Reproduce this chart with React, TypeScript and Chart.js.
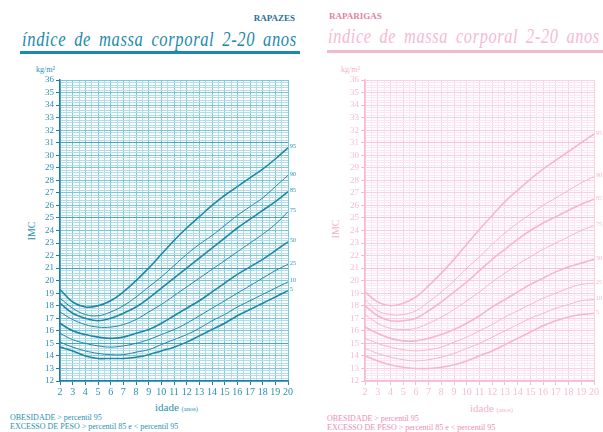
import React, { useEffect, useLayoutEffect, useRef, useState } from 'react';
import { Chart, registerables } from 'chart.js';
Chart.register(...registerables);

const ages = [2, 3, 4, 5, 6, 7, 8, 9, 10, 11, 12, 13, 14, 15, 16, 17, 18, 19, 20];
const percentileLabels = ['95', '90', '85', '75', '50', '25', '10', '5'];
const heavy = [true, false, true, false, true, false, false, true];

const boysP95 = [19.3, 18.3, 17.9, 18.0, 18.4, 19.1, 20.0, 21.0, 22.1, 23.2, 24.2, 25.1, 26.0, 26.8, 27.5, 28.2, 28.9, 29.7, 30.6];
const boysP90 = [18.6, 17.8, 17.3, 17.2, 17.5, 18.0, 18.7, 19.5, 20.3, 21.2, 22.1, 22.9, 23.6, 24.4, 25.2, 25.9, 26.6, 27.5, 28.4];
const boysP85 = [18.2, 17.4, 17.0, 16.8, 17.0, 17.4, 17.9, 18.6, 19.4, 20.2, 21.0, 21.8, 22.6, 23.4, 24.2, 24.9, 25.6, 26.3, 27.1];
const boysP75 = [17.5, 16.9, 16.5, 16.3, 16.3, 16.5, 16.9, 17.5, 18.1, 18.8, 19.5, 20.2, 20.9, 21.6, 22.3, 23.0, 23.7, 24.5, 25.5];
const boysP50 = [16.6, 16.0, 15.7, 15.5, 15.4, 15.5, 15.8, 16.1, 16.6, 17.2, 17.8, 18.4, 19.1, 19.8, 20.5, 21.1, 21.7, 22.4, 23.1];
const boysP25 = [15.8, 15.3, 15.0, 14.8, 14.7, 14.8, 15.0, 15.3, 15.7, 16.1, 16.6, 17.2, 17.8, 18.4, 19.0, 19.6, 20.2, 20.8, 21.3];
const boysP10 = [15.1, 14.7, 14.4, 14.2, 14.1, 14.1, 14.3, 14.5, 14.9, 15.3, 15.7, 16.2, 16.8, 17.3, 17.9, 18.4, 18.9, 19.4, 19.9];
const boysP5 = [14.7, 14.4, 14.0, 13.8, 13.8, 13.8, 13.9, 14.1, 14.4, 14.7, 15.1, 15.6, 16.1, 16.6, 17.2, 17.7, 18.2, 18.7, 19.2];

const girlsP95 = [19.1, 18.3, 18.0, 18.2, 18.7, 19.6, 20.6, 21.7, 22.9, 24.1, 25.2, 26.3, 27.2, 28.1, 28.9, 29.6, 30.3, 31.0, 31.7];
const girlsP90 = [18.5, 17.6, 17.3, 17.3, 17.6, 18.3, 19.1, 20.0, 21.0, 21.9, 22.9, 23.8, 24.6, 25.3, 26.0, 26.6, 27.2, 27.8, 28.3];
const girlsP85 = [18.0, 17.2, 16.8, 16.8, 17.0, 17.6, 18.3, 19.1, 19.9, 20.8, 21.7, 22.5, 23.3, 24.0, 24.6, 25.1, 25.6, 26.1, 26.5];
const girlsP75 = [17.3, 16.6, 16.2, 16.1, 16.2, 16.6, 17.1, 17.7, 18.4, 19.1, 19.9, 20.6, 21.3, 21.9, 22.5, 23.0, 23.5, 24.0, 24.4];
const girlsP50 = [16.3, 15.8, 15.4, 15.2, 15.2, 15.4, 15.7, 16.1, 16.6, 17.2, 17.9, 18.5, 19.1, 19.7, 20.2, 20.7, 21.1, 21.4, 21.7];
const girlsP25 = [15.4, 15.0, 14.7, 14.5, 14.4, 14.5, 14.7, 15.1, 15.5, 16.0, 16.5, 17.1, 17.6, 18.1, 18.6, 19.0, 19.4, 19.7, 19.8];
const girlsP10 = [14.6, 14.2, 13.9, 13.7, 13.6, 13.7, 13.9, 14.2, 14.6, 15.0, 15.5, 16.0, 16.5, 17.0, 17.4, 17.8, 18.1, 18.4, 18.5];
const girlsP5 = [14.0, 13.6, 13.3, 13.1, 13.0, 13.0, 13.1, 13.3, 13.6, 14.0, 14.4, 14.9, 15.4, 15.9, 16.4, 16.8, 17.1, 17.3, 17.4];

const boysSeries = [boysP95, boysP90, boysP85, boysP75, boysP50, boysP25, boysP10, boysP5];
const girlsSeries = [girlsP95, girlsP90, girlsP85, girlsP75, girlsP50, girlsP25, girlsP10, girlsP5];

const yTickMin = 12;
const yTickMax = 36;
const xTickMin = 2;
const xTickMax = 20;

const SERIF = '"Liberation Serif", "DejaVu Serif", serif';

type Theme = {
  curve: string;
  gridLight: string;
  gridInt: string;
  gridMajor: string;
  axis: string;
  tick: string;
  label: string;
};

const boysTheme: Theme = {
  curve: '#1f86a6',
  gridLight: '#b2deeb',
  gridInt: '#78c8de',
  gridMajor: '#45a6c5',
  axis: '#1d7fa0',
  tick: '#2b8fb0',
  label: '#2b8fb0',
};
const girlsTheme: Theme = {
  curve: '#f4b7cf',
  gridLight: '#fde6ef',
  gridInt: '#fad0e0',
  gridMajor: '#f7c2d7',
  axis: '#f5b9d1',
  tick: '#f5bcd2',
  label: '#f3b3cc',
};

const isInt = (v: number) => Math.abs(v - Math.round(v)) < 1e-6;

function makeChart(canvas: HTMLCanvasElement, series: number[][], theme: Theme, padRight: number, yWidth: number, majorY: number[]) {
  const labelPlugin = {
    id: 'pctLabels',
    afterDatasetsDraw(chart: any) {
      const ctx = chart.ctx;
      ctx.save();
      ctx.font = `6px ${SERIF}`;
      ctx.fillStyle = theme.label;
      ctx.textBaseline = 'middle';
      chart.data.datasets.forEach((ds: any, i: number) => {
        const meta = chart.getDatasetMeta(i);
        const pt = meta.data[meta.data.length - 1];
        if (pt) ctx.fillText(ds.label, pt.x + 2, pt.y - 1);
      });
      ctx.restore();
    },
  };
  return new Chart(canvas, {
    type: 'line',
    data: {
      datasets: series.map((s, i) => ({
        label: percentileLabels[i],
        data: ages.map((a, j) => ({ x: a, y: s[j] })),
        borderColor: theme.curve,
        borderWidth: heavy[i] ? 1.6 : 1,
        pointRadius: 0,
        tension: 0.4,
        fill: false,
      })),
    },
    options: {
      responsive: false,
      animation: false,
      events: [],
      layout: { padding: { left: 0, right: padRight, top: 20, bottom: 0 } },
      plugins: { legend: { display: false }, tooltip: { enabled: false }, title: { display: false } },
      scales: {
        x: {
          type: 'linear',
          min: xTickMin,
          max: xTickMax,
          afterFit: (s: any) => { s.height = 19; },
          border: { color: theme.axis, width: 1.5 },
          grid: {
            color: (c: any) => (isInt(c.tick.value) ? theme.gridInt : theme.gridLight),
            tickColor: (c: any) => (isInt(c.tick.value) ? theme.axis : 'rgba(0,0,0,0)'),
            tickLength: 4,
            lineWidth: 1,
          },
          ticks: {
            stepSize: 0.5,
            autoSkip: false,
            maxRotation: 0,
            padding: 1,
            color: theme.tick,
            font: { family: SERIF, size: 10 },
            callback: (v: any) => (isInt(Number(v)) ? String(Math.round(Number(v))) : ''),
          },
        },
        y: {
          type: 'linear',
          min: yTickMin,
          max: yTickMax,
          afterFit: (s: any) => { s.width = yWidth; },
          border: { color: theme.axis, width: 1.5 },
          grid: {
            color: (c: any) => {
              const v = c.tick.value;
              if (majorY.some((m) => Math.abs(m - v) < 1e-6)) return theme.gridMajor;
              return isInt(v) ? theme.gridInt : theme.gridLight;
            },
            tickColor: (c: any) => (isInt(c.tick.value) ? theme.axis : 'rgba(0,0,0,0)'),
            tickLength: 4,
            lineWidth: 1,
          },
          ticks: {
            stepSize: 0.2,
            autoSkip: false,
            padding: 2,
            color: theme.tick,
            font: { family: SERIF, size: 9 },
            callback: (v: any) => (isInt(Number(v)) ? String(Math.round(Number(v))) : ''),
          },
        },
      },
    } as any,
    plugins: [labelPlugin],
  });
}

const abs = (s: React.CSSProperties): React.CSSProperties => ({ position: 'absolute', fontFamily: SERIF, whiteSpace: 'nowrap', lineHeight: 1, ...s });

function FitText({ text, left, top, width, size, color }: { text: string; left: number; top: number; width: number; size: number; color: string }) {
  const ref = useRef<HTMLDivElement>(null);
  const [scale, setScale] = useState(1);
  useLayoutEffect(() => {
    const el = ref.current;
    if (el) {
      const w = el.scrollWidth;
      if (w > 0) setScale(width / w);
    }
  }, [text, width, size]);
  return (
    <div
      ref={ref}
      style={abs({ left, top, fontSize: size, fontStyle: 'italic', color, letterSpacing: 0.8, wordSpacing: 4, transform: `scaleX(${scale})`, transformOrigin: 'left top' })}
    >
      {text}
    </div>
  );
}

const titleText = 'índice de massa corporal 2-20 anos';

export default function App() {
  const leftRef = useRef<HTMLCanvasElement>(null);
  const rightRef = useRef<HTMLCanvasElement>(null);

  useEffect(() => {
    const a = makeChart(leftRef.current!, boysSeries, boysTheme, 12, 60, [15, 21, 25, 31]);
    const b = makeChart(rightRef.current!, girlsSeries, girlsTheme, 9, 65, [15, 21, 25, 31]);
    return () => { a.destroy(); b.destroy(); };
  }, []);

  const blue = '#1c89ae';
  const pink = '#f5bad2';

  return (
    <div style={{ position: 'absolute', left: 0, top: 0, width: 603, height: 432, background: '#fff', overflow: 'hidden' }}>
      {/* Boys */}
      <div style={abs({ left: 195, top: 14, width: 100, textAlign: 'right', fontSize: 9, fontWeight: 'bold', color: '#2a6f95' })}>RAPAZES</div>
      <FitText text={titleText} left={22} top={29} width={275} size={21} color={blue} />
      <div style={{ position: 'absolute', left: 20, top: 51, width: 280, height: 3, background: blue }} />
      <div style={abs({ left: 36, top: 66, fontSize: 8, color: '#2b8fb0' })}>kg/m²</div>
      <div style={abs({ left: 23, top: 226, fontSize: 10, color: '#2b8fb0', transform: 'rotate(-90deg)' })}>IMC</div>
      <div style={abs({ left: 155, top: 402, fontSize: 11, color: '#2b8fb0' })}>idade <span style={{ fontSize: 6.5 }}>(anos)</span></div>
      <div style={abs({ left: 10, top: 414, fontSize: 8, color: '#2b8fb0' })}>OBESIDADE &gt; percentil 95</div>
      <div style={abs({ left: 10, top: 423, fontSize: 8, color: '#2b8fb0' })}>EXCESSO DE PESO &gt; percentil 85 e &lt; percentil 95</div>
      <canvas ref={leftRef} width={300} height={340} style={{ position: 'absolute', left: 0, top: 60, width: 300, height: 340 }} />

      {/* Girls */}
      <div style={abs({ left: 329, top: 12, fontSize: 9, fontWeight: 'bold', color: '#de84a8' })}>RAPARIGAS</div>
      <FitText text={titleText} left={328} top={26} width={272} size={21} color={pink} />
      <div style={{ position: 'absolute', left: 327, top: 50, width: 276, height: 3, background: '#f3b7cf' }} />
      <div style={abs({ left: 341, top: 66, fontSize: 8, color: '#f3b3cc' })}>kg/m²</div>
      <div style={abs({ left: 327, top: 224, fontSize: 10, color: '#f3b3cc', transform: 'rotate(-90deg)' })}>IMC</div>
      <div style={abs({ left: 470, top: 403, fontSize: 11, color: '#f3b3cc' })}>idade <span style={{ fontSize: 6.5 }}>(anos)</span></div>
      <div style={abs({ left: 327, top: 415, fontSize: 8, color: '#ea8db3' })}>OBESIDADE &gt; percentil 95</div>
      <div style={abs({ left: 327, top: 424, fontSize: 8, color: '#ea8db3' })}>EXCESSO DE PESO &gt; percentil 85 e &lt; percentil 95</div>
      <canvas ref={rightRef} width={303} height={340} style={{ position: 'absolute', left: 300, top: 60, width: 303, height: 340 }} />
    </div>
  );
}
